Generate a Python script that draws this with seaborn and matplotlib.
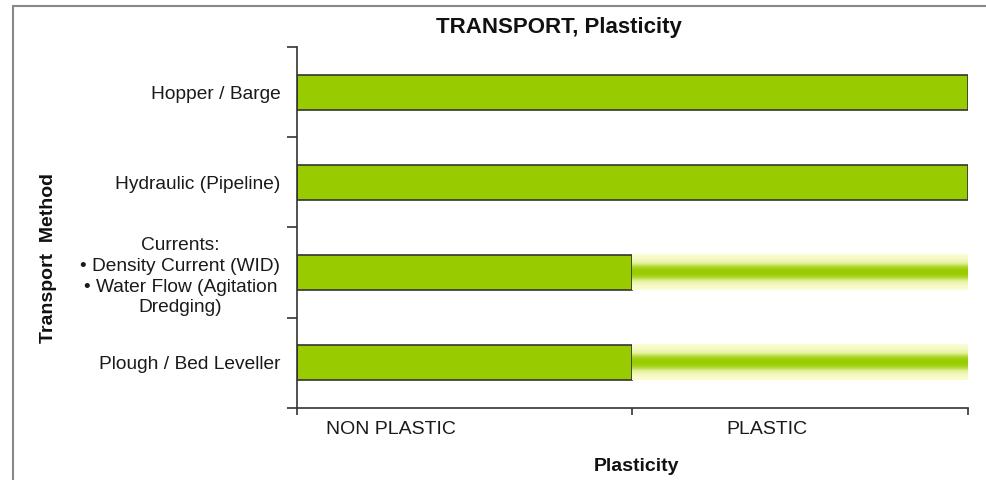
import numpy as np
import matplotlib
matplotlib.use("Agg")
import matplotlib.pyplot as plt
import matplotlib.colors as mcolors
import seaborn as sns
import pandas as pd

# data
methods = ["Hopper / Barge", "Hydraulic (Pipeline)",
           "Currents:\n\u2022 Density Current (WID)\n\u2022 Water Flow (Agitation\nDredging)",
           "Plough / Bed Leveller"]
solid_end = [2, 2, 1, 1]      # solid bar reaches (0=start, 1=non plastic, 2=plastic)
faded_end = [2, 2, 2, 2]      # faded (uncertain) part of the bar
plasticity_labels = ["NON PLASTIC", "PLASTIC"]
label_pos = [0.28, 1.40]

sns.set_theme(style="white")
plt.rcParams['font.family'] = ['Liberation Sans', 'DejaVu Sans']

df = pd.DataFrame({"method": methods, "solid": solid_end, "faded": faded_end})

fig = plt.figure(figsize=(9.87, 4.8), dpi=100)
ax = fig.add_axes([0.3009, 0.15, 0.6798, 0.7521])

green = "#99CC00"
bar_h = 0.39
sns.barplot(data=df, x="solid", y="method", orient="h", color=green,
            edgecolor="#333333", linewidth=1.2, width=bar_h, saturation=1, ax=ax)

# faded part of the bars: vertical gradient pale yellow -> green -> pale yellow
fade_cmap = mcolors.LinearSegmentedColormap.from_list("fade", ["#FDFDD2", "#E2F19C", green])
t = np.linspace(-1, 1, 60)
prof = np.exp(-(np.abs(t) / 0.58) ** 2.5)
grad = prof[:, None] * np.ones((1, 10))
for i, row in df.iterrows():
    if row["faded"] > row["solid"]:
        ax.imshow(grad, cmap=fade_cmap, vmin=0, vmax=1, aspect="auto",
                  extent=[row["solid"], row["faded"], i + bar_h / 2, i - bar_h / 2],
                  interpolation="bilinear", zorder=1)

ax.set_xlim(0, 2)
ax.set_ylim(len(methods) - 0.5, -0.5)

# axes styling
sns.despine(ax=ax)
for s in ["left", "bottom"]:
    ax.spines[s].set_color("#333333")
    ax.spines[s].set_linewidth(1.2)

ax.set_yticks(range(len(methods)))
ax.set_yticklabels(methods, fontsize=13.8, color="#1a1a1a", multialignment="center",
                   linespacing=1.3)
ax.set_yticks(np.arange(-0.5, len(methods)), minor=True)
ax.tick_params(axis="y", which="major", length=0, pad=12)
ax.tick_params(axis="y", which="minor", left=True, length=7, width=1.2, color="#333333")

ax.set_xticks([0, 1, 2])
ax.set_xticklabels([])
ax.set_xticks(label_pos, minor=True)
ax.set_xticklabels(plasticity_labels, minor=True, fontsize=14, color="#1a1a1a")
ax.tick_params(axis="x", which="major", bottom=True, length=5, width=1.2, color="#333333")
ax.tick_params(axis="x", which="minor", bottom=False, length=0, pad=9)
ax.set_xlabel("")
ax.set_ylabel("")

fig.text(0.566, 0.942, "TRANSPORT, Plasticity", ha="center", va="center",
         fontsize=16, fontweight="bold", color="#111111")
fig.text(0.049, 0.4625, "Transport  Method", ha="center", va="center", rotation=90,
         fontsize=14, fontweight="bold", color="#111111")
fig.text(0.645, 0.029, "Plasticity", ha="center", va="center",
         fontsize=14, fontweight="bold", color="#111111")

# chart area border
fig.add_artist(plt.Line2D([13 / 987, 13 / 987], [0, 1 - 6 / 480], transform=fig.transFigure,
                          color="#888888", linewidth=1.5))
fig.add_artist(plt.Line2D([13 / 987, 1], [1 - 6 / 480, 1 - 6 / 480], transform=fig.transFigure,
                          color="#888888", linewidth=1.5))

fig.savefig("out.png", dpi=100)
